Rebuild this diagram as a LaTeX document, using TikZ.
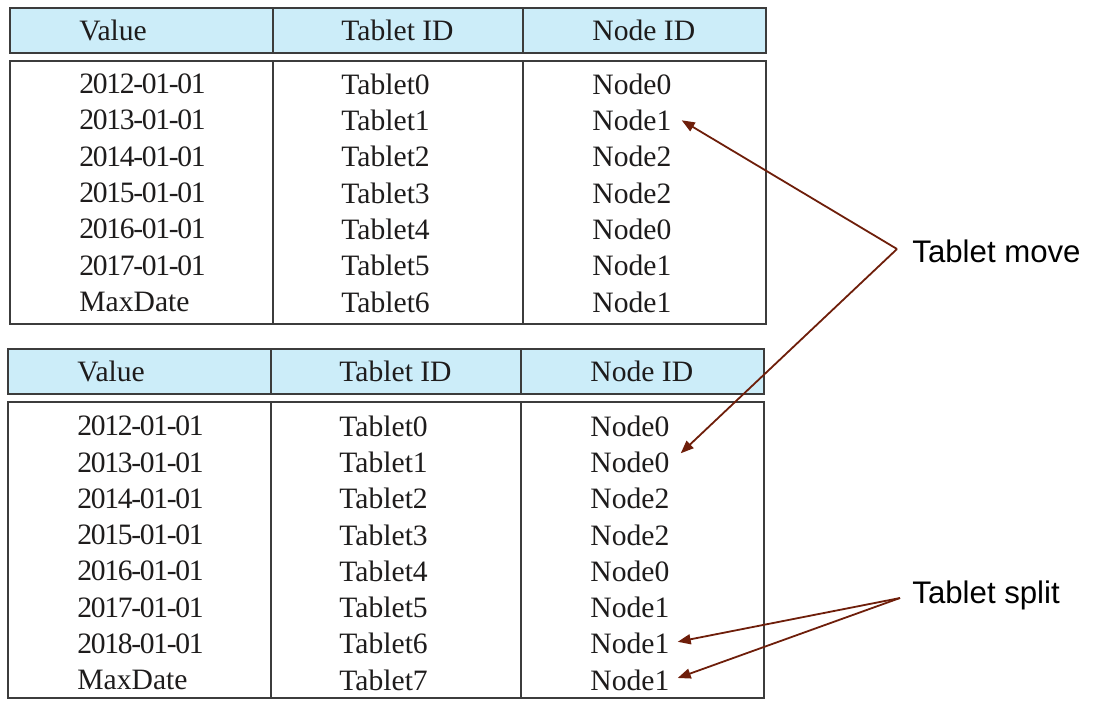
\documentclass[tikz,border=0pt]{standalone}
\usepackage{fontspec}
\setmainfont{Liberation Serif}
\newfontfamily\datefont[LetterSpace=-4.5]{Liberation Serif}
\newfontfamily\labelfont{Liberation Sans}
\usetikzlibrary{arrows.meta, positioning}
\definecolor{headblue}{RGB}{204, 237, 249}
\definecolor{rulegray}{RGB}{60, 60, 60}
\definecolor{arrowbrown}{RGB}{110, 30, 10}
\definecolor{celltext}{RGB}{30, 28, 28}

\begin{document}
\begin{tikzpicture}[x=0.5pt, y=-0.5pt,
  headbox/.style={draw=rulegray, fill=headblue, line width=0.7pt},
  bodybox/.style={draw=rulegray, line width=0.7pt},
  cell/.style={anchor=west, inner sep=0pt, text=celltext, font=\fontsize{14.8}{17}\selectfont},
  datecell/.style={cell, font=\datefont\fontsize{14.8}{17}\selectfont},
  note/.style={anchor=west, inner sep=0pt, font=\labelfont\fontsize{15.6}{18}\selectfont},
  movearrow/.style={draw=arrowbrown, line width=0.9pt, -{Triangle[length=6.5pt, width=5pt]}}]
  \useasboundingbox (0,0) rectangle (1097,706);

  % Before: header and body of the first table
  \draw[headbox] (10,8) rectangle (766,53);
  \draw[bodybox] (10,61) rectangle (766,324);
  \draw[bodybox] (273,8) -- (273,53) (523,8) -- (523,53);
  \draw[bodybox] (273,61) -- (273,324) (523,61) -- (523,324);
  \node[cell] (a-head-val) at (79,30) {Value};
  \node[cell] (a-head-tab) at (341,30) {Tablet ID};
  \node[cell] (a-head-node) at (592,30) {Node ID};
  \foreach \v/\t/\n [count=\i] in {2012-01-01/Tablet0/Node0, 2013-01-01/Tablet1/Node1,
      2014-01-01/Tablet2/Node2, 2015-01-01/Tablet3/Node2, 2016-01-01/Tablet4/Node0,
      2017-01-01/Tablet5/Node1} {
    \node[datecell] (a-val-\i) at (79, {84+36.3*(\i-1)}) {\v};
    \node[cell] (a-tab-\i) at (341, {84+36.3*(\i-1)}) {\t};
    \node[cell] (a-node-\i) at (592, {84+36.3*(\i-1)}) {\n};
  }
  \node[cell] (a-val-7) at (79,302) {MaxDate};
  \node[cell] (a-tab-7) at (341,302) {Tablet6};
  \node[cell] (a-node-7) at (592,302) {Node1};

  % After: header and body of the second table
  \draw[headbox] (8,349) rectangle (764,394);
  \draw[bodybox] (8,402) rectangle (764,698);
  \draw[bodybox] (271,349) -- (271,394) (521,349) -- (521,394);
  \draw[bodybox] (271,402) -- (271,698) (521,402) -- (521,698);
  \node[cell] (b-head-val) at (77,371) {Value};
  \node[cell] (b-head-tab) at (339,371) {Tablet ID};
  \node[cell] (b-head-node) at (590,371) {Node ID};
  \foreach \v/\t/\n [count=\i] in {2012-01-01/Tablet0/Node0, 2013-01-01/Tablet1/Node0,
      2014-01-01/Tablet2/Node2, 2015-01-01/Tablet3/Node2, 2016-01-01/Tablet4/Node0,
      2017-01-01/Tablet5/Node1, 2018-01-01/Tablet6/Node1} {
    \node[datecell] (b-val-\i) at (77, {426+36.3*(\i-1)}) {\v};
    \node[cell] (b-tab-\i) at (339, {426+36.3*(\i-1)}) {\t};
    \node[cell] (b-node-\i) at (590, {426+36.3*(\i-1)}) {\n};
  }
  \node[cell] (b-val-8) at (77,680) {MaxDate};
  \node[cell] (b-tab-8) at (339,680) {Tablet7};
  \node[cell] (b-node-8) at (590,680) {Node1};

  % Tablet move
  \coordinate (move-j) at (897,249);
  \node[note] (move) at (912,251) {Tablet move};
  \draw[movearrow] (move-j) -- ([xshift=5pt]a-node-2.east);
  \draw[movearrow] (move-j) -- ([xshift=5.5pt, yshift=4.5pt]b-node-2.east);

  % Tablet split
  \coordinate (split-j) at (900,598);
  \node[note] (split) at (912,595) {Tablet split};
  \draw[movearrow] (split-j) -- ([xshift=4pt, yshift=1pt]b-node-7.east);
  \draw[movearrow] (split-j) -- ([xshift=4pt, yshift=1pt]b-node-8.east);
\end{tikzpicture}
\end{document}
